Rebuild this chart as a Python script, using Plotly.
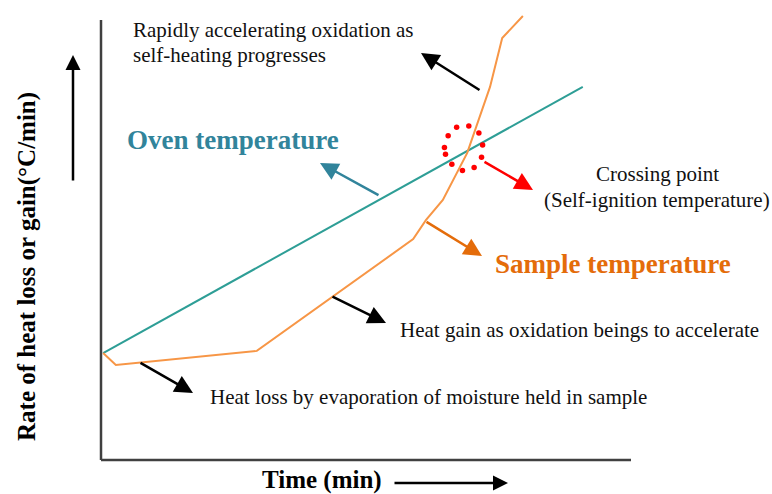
import plotly.graph_objects as go

# ---- data (time units 0-100 along the x axis, rate units 0-100 along the y axis) ----
oven_time = [0.4, 90.9]
oven_rate = [24.3, 84.8]

sample_time = [0.4, 2.8, 29.4, 58.9, 61.3, 64.5, 69.1, 73.4, 75.7, 79.6]
sample_rate = [24.3, 21.6, 24.8, 50.2, 54.5, 59.1, 69.8, 84.8, 95.9, 100.9]

# dotted circle marking the crossing point
cross_time = [67.1, 69.4, 71.3, 72.0, 71.8, 70.4, 68.2, 66.2, 65.0, 64.8, 65.5]
cross_rate = [75.6, 75.9, 74.3, 71.6, 68.8, 66.5, 65.8, 67.2, 69.5, 71.0, 73.7]

# ---- layout helpers (pixel -> axis units) ----
W, H = 772, 494
X0PX, XSC = 101, 5.3     # x axis origin pixel, pixels per time unit
Y0PX, YSC = 460, 4.4     # y axis origin pixel, pixels per rate unit


def px(xp):
    return (xp - X0PX) / XSC


def py(yp):
    return (Y0PX - yp) / YSC


TEAL_LINE = "#2E9E96"
TEAL_TXT = "#31849B"
ORANGE_LINE = "#F79646"
ORANGE_TXT = "#E46C0A"
RED = "#FF0000"
SERIF = "Liberation Serif, Times New Roman, serif"

fig = go.Figure()
fig.add_trace(go.Scatter(x=oven_time, y=oven_rate, mode="lines",
                         line=dict(color=TEAL_LINE, width=2), hoverinfo="skip",
                         name="Oven temperature"))
fig.add_trace(go.Scatter(x=sample_time, y=sample_rate, mode="lines",
                         line=dict(color=ORANGE_LINE, width=2), hoverinfo="skip",
                         name="Sample temperature"))
fig.add_trace(go.Scatter(x=cross_time, y=cross_rate, mode="markers",
                         marker=dict(color=RED, size=5.5), hoverinfo="skip",
                         name="Crossing point"))

# axes drawn as L-shaped lines
fig.add_shape(type="line", x0=0, x1=0, y0=0, y1=100,
              line=dict(color="#404040", width=2.5))
fig.add_shape(type="line", x0=0, x1=100, y0=0, y1=0,
              line=dict(color="#404040", width=2.5))

anns = []


def arrow(tail, tip, color, width=2.5, size=1.45):
    anns.append(dict(x=px(tip[0]), y=py(tip[1]), ax=px(tail[0]), ay=py(tail[1]),
                     xref="x", yref="y", axref="x", ayref="y", text="",
                     showarrow=True, arrowhead=2, arrowwidth=width,
                     arrowsize=size, arrowcolor=color, standoff=0, startstandoff=0))


def label(text, xp, yp, size=21, color="#111111", bold=False, anchor="left"):
    t = f"<b>{text}</b>" if bold else text
    anns.append(dict(x=px(xp), y=py(yp), xref="x", yref="y", text=t,
                     showarrow=False, xanchor=anchor, yanchor="middle",
                     font=dict(family=SERIF, size=size, color=color)))


arrow((481, 91), (421, 53), "black")
arrow((380, 196), (320, 163), TEAL_TXT)
arrow((483, 161), (533, 190), RED)
arrow((425, 221), (482, 256), ORANGE_TXT)
arrow((331, 296), (386, 323), "black")
arrow((139, 362), (193, 393), "black")
arrow((393, 483), (508, 483), "black", width=2.5, size=1.2)
arrow((73, 182), (73, 55), "black", width=2.5, size=1.2)

label("Rapidly accelerating oxidation as", 131, 30)
label("self-heating progresses", 131, 55)
label("Oven temperature", 125, 140, size=27, color=TEAL_TXT, bold=True)
label("Crossing point", 657, 174, anchor="center")
label("(Self-ignition temperature)", 657, 200, anchor="center")
label("Sample temperature", 493, 264, size=27, color=ORANGE_TXT, bold=True)
label("Heat gain as oxidation beings to accelerate", 398, 330)
label("Heat loss by evaporation of moisture held in sample", 208, 397)
label("Time (min)", 260, 480, size=25, color="black", bold=True)

anns.append(dict(x=px(27), y=py(267), xref="x", yref="y",
                 text="<b>Rate of heat loss or gain(°C/min)</b>", textangle=-90,
                 showarrow=False, xanchor="center", yanchor="middle",
                 font=dict(family=SERIF, size=25, color="black")))

fig.update_layout(
    width=W, height=H,
    margin=dict(l=0, r=0, t=0, b=0),
    paper_bgcolor="white", plot_bgcolor="white",
    showlegend=False,
    annotations=anns,
    xaxis=dict(visible=False, range=[px(0), px(W)], fixedrange=True),
    yaxis=dict(visible=False, range=[py(H), py(0)], fixedrange=True),
)

fig.write_html(
    "out.html",
    config={"displayModeBar": False},
    post_script="document.body.style.margin='0';document.body.style.overflow='hidden';",
)
